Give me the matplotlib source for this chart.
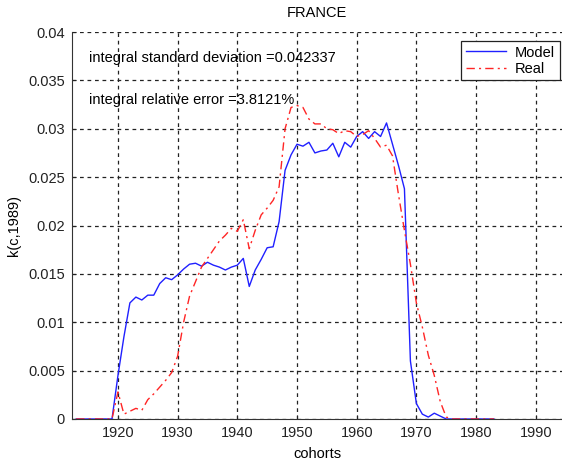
import numpy as np
import matplotlib
matplotlib.use("Agg")
import matplotlib.pyplot as plt

plt.rcParams['font.family'] = ['Liberation Sans', 'DejaVu Sans']

years = list(range(1913, 1984))

model = [0, 0, 0, 0, 0, 0,            # 1913-1918
         0, 0.0045, 0.0085, 0.0120, 0.0126, 0.0123, 0.0128, 0.0128, 0.0140, 0.0146,  # 1919-1928
         0.0144, 0.0149, 0.0155, 0.0160, 0.0161, 0.0158, 0.0162, 0.0159, 0.0157, 0.0154,  # 1929-1938
         0.0157, 0.0159, 0.0166, 0.0137, 0.0154, 0.0165, 0.0177, 0.0178, 0.0204, 0.0257,  # 1939-1948
         0.0273, 0.0284, 0.0282, 0.0286, 0.0275, 0.0277, 0.0278, 0.0285, 0.0271, 0.0286,  # 1949-1958
         0.0281, 0.0292, 0.0297, 0.0290, 0.0297, 0.0292, 0.0306, 0.0284, 0.0262, 0.0238,  # 1959-1968
         0.0060, 0.0016, 0.0005, 0.0002, 0.0006, 0.0003, 0.0, 0.0, 0.0, 0.0,  # 1969-1978
         0.0, 0.0, 0.0, 0.0, 0.0]  # 1979-1983

real = [0, 0, 0, 0, 0, 0,             # 1913-1918
        0, 0.0028, 0.0005, 0.0008, 0.0011, 0.0009, 0.0020, 0.0026, 0.0033, 0.0040,  # 1919-1928
        0.0048, 0.0065, 0.0100, 0.0127, 0.0142, 0.0157, 0.0166, 0.0175, 0.0184, 0.0190,  # 1929-1938
        0.0197, 0.0194, 0.0206, 0.0176, 0.0195, 0.0211, 0.0218, 0.0226, 0.0240, 0.0300,  # 1939-1948
        0.0322, 0.0324, 0.0322, 0.0310, 0.0305, 0.0305, 0.0300, 0.0299, 0.0295, 0.0298,  # 1949-1958
        0.0297, 0.0292, 0.0294, 0.0298, 0.0290, 0.0281, 0.0283, 0.0272, 0.0232, 0.0195,  # 1959-1968
        0.0160, 0.0120, 0.0095, 0.0066, 0.0045, 0.0018, 0.0002, 0.0, 0.0, 0.0,  # 1969-1978
        0.0, 0.0, 0.0, 0.0, 0.0]  # 1979-1983

xticks = [1920, 1930, 1940, 1950, 1960, 1970, 1980, 1990]
yticks = [0, 0.005, 0.01, 0.015, 0.02, 0.025, 0.03, 0.035, 0.04]
ytick_labels = ["0", "0.005", "0.01", "0.015", "0.02", "0.025", "0.03", "0.035", "0.04"]

annot_std = 'integral standard deviation =0.042337'
annot_err = 'integral relative error =3.8121%'

fig = plt.figure(figsize=(5.62, 4.62), dpi=100)
ax = fig.add_axes([72/562, 43/462, 490/562, 387/462])

ax.plot(years, model, color='#2020ff', lw=1.0, label='Model')
ax.plot(years, real, color='#ff2525', lw=1.0, ls=(0, (6, 3, 1.5, 3)), label='Real')

ax.set_xlim(1912.3, 1994.4)
ax.set_ylim(0, 0.04)
ax.set_xticks(xticks)
ax.set_yticks(yticks)
ax.set_yticklabels(ytick_labels)
ax.tick_params(direction='in', length=3, labelsize=10.5, colors='#222222', pad=5)
ax.grid(True, color='#222222', ls=(0, (3, 3)), lw=0.9)
ax.spines['top'].set_visible(False)
ax.spines['right'].set_visible(False)
ax.spines['left'].set_color('#333333')
ax.spines['bottom'].set_color('#333333')

ax.set_title('FRANCE', fontsize=10.5, pad=11)
ax.set_xlabel('cohorts', fontsize=10.5, labelpad=5)
ax.set_ylabel('k(c,1989)', fontsize=10.5, labelpad=5)

ax.text(0.035, 0.933, annot_std, transform=ax.transAxes, fontsize=10.5, va='center')
ax.text(0.035, 0.824, annot_err, transform=ax.transAxes, fontsize=10.5, va='center')

leg = ax.legend(loc='upper right', bbox_to_anchor=(1.01, 0.995), fontsize=10.5,
                fancybox=False, edgecolor='#222222', framealpha=1,
                handlelength=2.8, borderpad=0.3, labelspacing=0.15, handletextpad=0.6)
leg.get_frame().set_linewidth(0.9)

fig.savefig('out.png', dpi=100)
